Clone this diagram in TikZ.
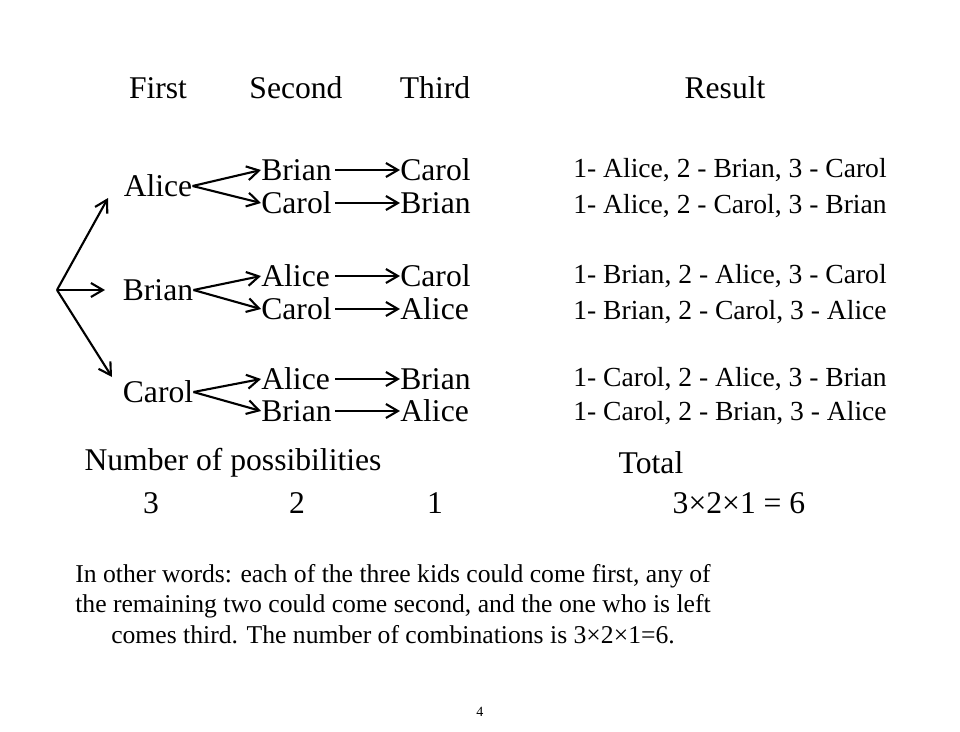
\documentclass[tikz,border=0pt]{standalone}
\usepackage{fontspec}
\setmainfont{Liberation Serif}
\usetikzlibrary{arrows.meta}
\begin{document}
\begin{tikzpicture}[x=0.02cm,y=-0.02cm,
  big/.style={font=\rmfamily\fontsize{18}{20}\selectfont,inner sep=0pt},
  res/.style={font=\rmfamily\fontsize{15.7}{18}\selectfont,inner sep=0pt,anchor=west},
  arr/.style={-{Straight Barb[length=2.4mm,width=2.8mm]},line width=1.2pt}]
\useasboundingbox (0,0) rectangle (960,731);
\node[big] (h1) at (158,88) {First};
\node[big] (h2) at (296,88) {Second};
\node[big] (h3) at (435,88) {Third};
\node[big] (h4) at (725,88) {Result};
\coordinate (root) at (57,290);
\node[big] (a) at (158,186) {Alice};
\node[big] (b) at (158,290) {Brian};
\node[big] (c) at (158,392) {Carol};
\coordinate (ta) at (108,198);
\coordinate (tb) at (105,290);
\coordinate (tc) at (112,377);
\draw[arr] (root) -- (ta);
\draw[arr] (root) -- (tb);
\draw[arr] (root) -- (tc);
\foreach \n/\s/\t/\y in {a1/Brian/Carol/170, a2/Carol/Brian/203, b1/Alice/Carol/276, b2/Carol/Alice/309, c1/Alice/Brian/379, c2/Brian/Alice/411}{
  \node[big,anchor=west] (s\n) at (261,\y) {\s};
  \node[big,anchor=west] (t\n) at (400,\y) {\t};
  \draw[arr] (335,\y) -- (t\n.west);
}
\draw[arr] (a.east) -- (sa1.west);
\draw[arr] (a.east) -- (sa2.west);
\draw[arr] (b.east) -- (sb1.west);
\draw[arr] (b.east) -- (sb2.west);
\draw[arr] (c.east) -- (sc1.west);
\draw[arr] (c.east) -- (sc2.west);
\node[res] (r1) at (573,170) {1- Alice, 2 - Brian, 3 - Carol};
\node[res] (r2) at (573,206) {1- Alice, 2 - Carol, 3 - Brian};
\node[res] (r3) at (573,276) {1- Brian, 2 - Alice, 3 - Carol};
\node[res] (r4) at (573,312) {1- Brian, 2 - Carol, 3 - Alice};
\node[res] (r5) at (573,379) {1- Carol, 2 - Alice, 3 - Brian};
\node[res] (r6) at (573,413) {1- Carol, 2 - Brian, 3 - Alice};
\node[big] (np) at (233,463) {Number of possibilities};
\node[big] (tot) at (651,463) {Total};
\node[big] (n3) at (151,503) {3};
\node[big] (n2) at (297,503) {2};
\node[big] (n1) at (435,503) {1};
\node[big] (nt) at (739,503) {3×2×1 = 6};
\node[font=\rmfamily\fontsize{14.6}{17.4}\selectfont,align=center,inner sep=0pt] (para) at (393,604) {In other words: each of the three kids could come first, any of\\the remaining two could come second, and the one who is left\\comes third. The number of combinations is 3×2×1=6.};
\node[font=\rmfamily\fontsize{8}{10}\selectfont,inner sep=0pt] (pg) at (480,712) {4};
\end{tikzpicture}
\end{document}
